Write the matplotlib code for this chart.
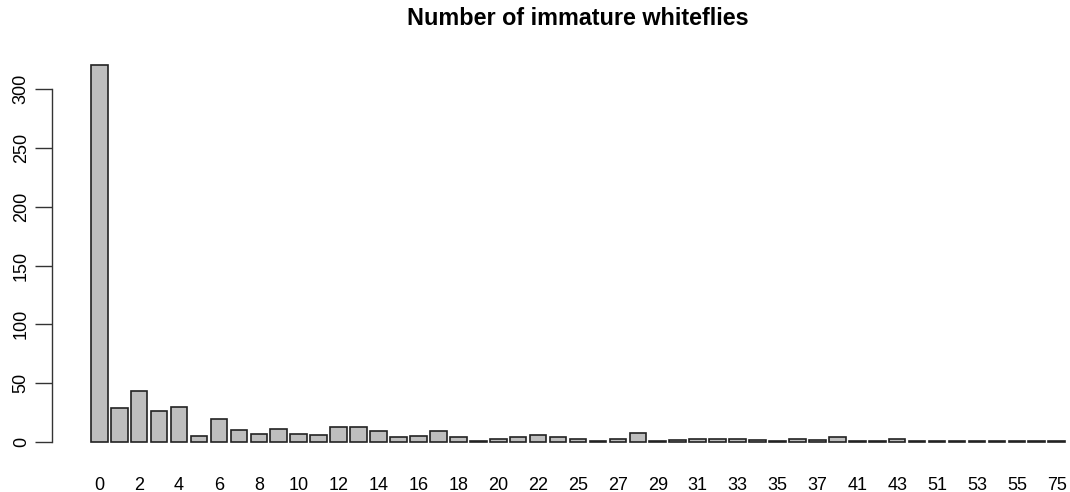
import numpy as np
import matplotlib.pyplot as plt

plt.rcParams['font.family'] = ['Liberation Sans', 'DejaVu Sans']

# counts of leaves by number of immature whiteflies
counts = [0, 1, 2, 3, 4, 5, 6, 7, 8, 9, 10, 11, 12, 13, 14, 15, 16, 17, 18, 19,
          20, 21, 22, 24, 25, 26, 27, 28, 29, 30, 31, 32, 33, 34, 35, 36, 37, 39,
          41, 42, 43, 47, 51, 52, 53, 54, 55, 60, 75]
freq = [320, 29, 43, 26, 30, 5, 20, 10, 7, 11, 7, 6, 13, 13, 9, 4, 5, 9, 4, 1,
        3, 4, 6, 4, 3, 1, 3, 8, 1, 2, 3, 3, 3, 2, 1, 3, 2, 4,
        1, 1, 3, 1, 1, 1, 1, 1, 1, 1, 1]

fig = plt.figure(figsize=(10.7, 4.92), dpi=100)
W, H = 1070, 492
# plot region in pixels (R-style margins)
left, right, top, bottom = 52, 1104, 50.4, 457.1
ax = fig.add_axes([left / W, 1 - bottom / H, (right - left) / W, (bottom - top) / H])

n = len(freq)
x = 0.7 + 1.2 * np.arange(n)
ax.bar(x, freq, width=1.0, color='#bebebe', edgecolor='#222222', linewidth=1.2)

ymax = max(freq)
ax.set_xlim(0.2 - 0.04 * 58.6, 58.8 + 0.04 * 58.6)
ax.set_ylim(-0.04 * ymax, 1.04 * ymax)

for s in ['top', 'right', 'bottom']:
    ax.spines[s].set_visible(False)
ax.spines['left'].set_bounds(0, 300)
ax.spines['left'].set_linewidth(1.0)
ax.spines['left'].set_color('#333333')

ax.set_yticks([0, 50, 100, 150, 200, 250, 300])
ax.set_yticklabels(['0', '50', '100', '150', '200', '250', '300'],
                   rotation=90, va='center', fontsize=13)
ax.tick_params(axis='y', length=12, width=1.0, color='#333333', pad=4)

ax.set_xticks(x[::2])
ax.set_xticklabels([str(c) for c in counts[::2]], fontsize=13)
ax.tick_params(axis='x', length=0, pad=14)

ax.set_title('Number of immature whiteflies', fontsize=16.8, fontweight='bold',
             pad=18)

fig.savefig('out.png', dpi=100)
